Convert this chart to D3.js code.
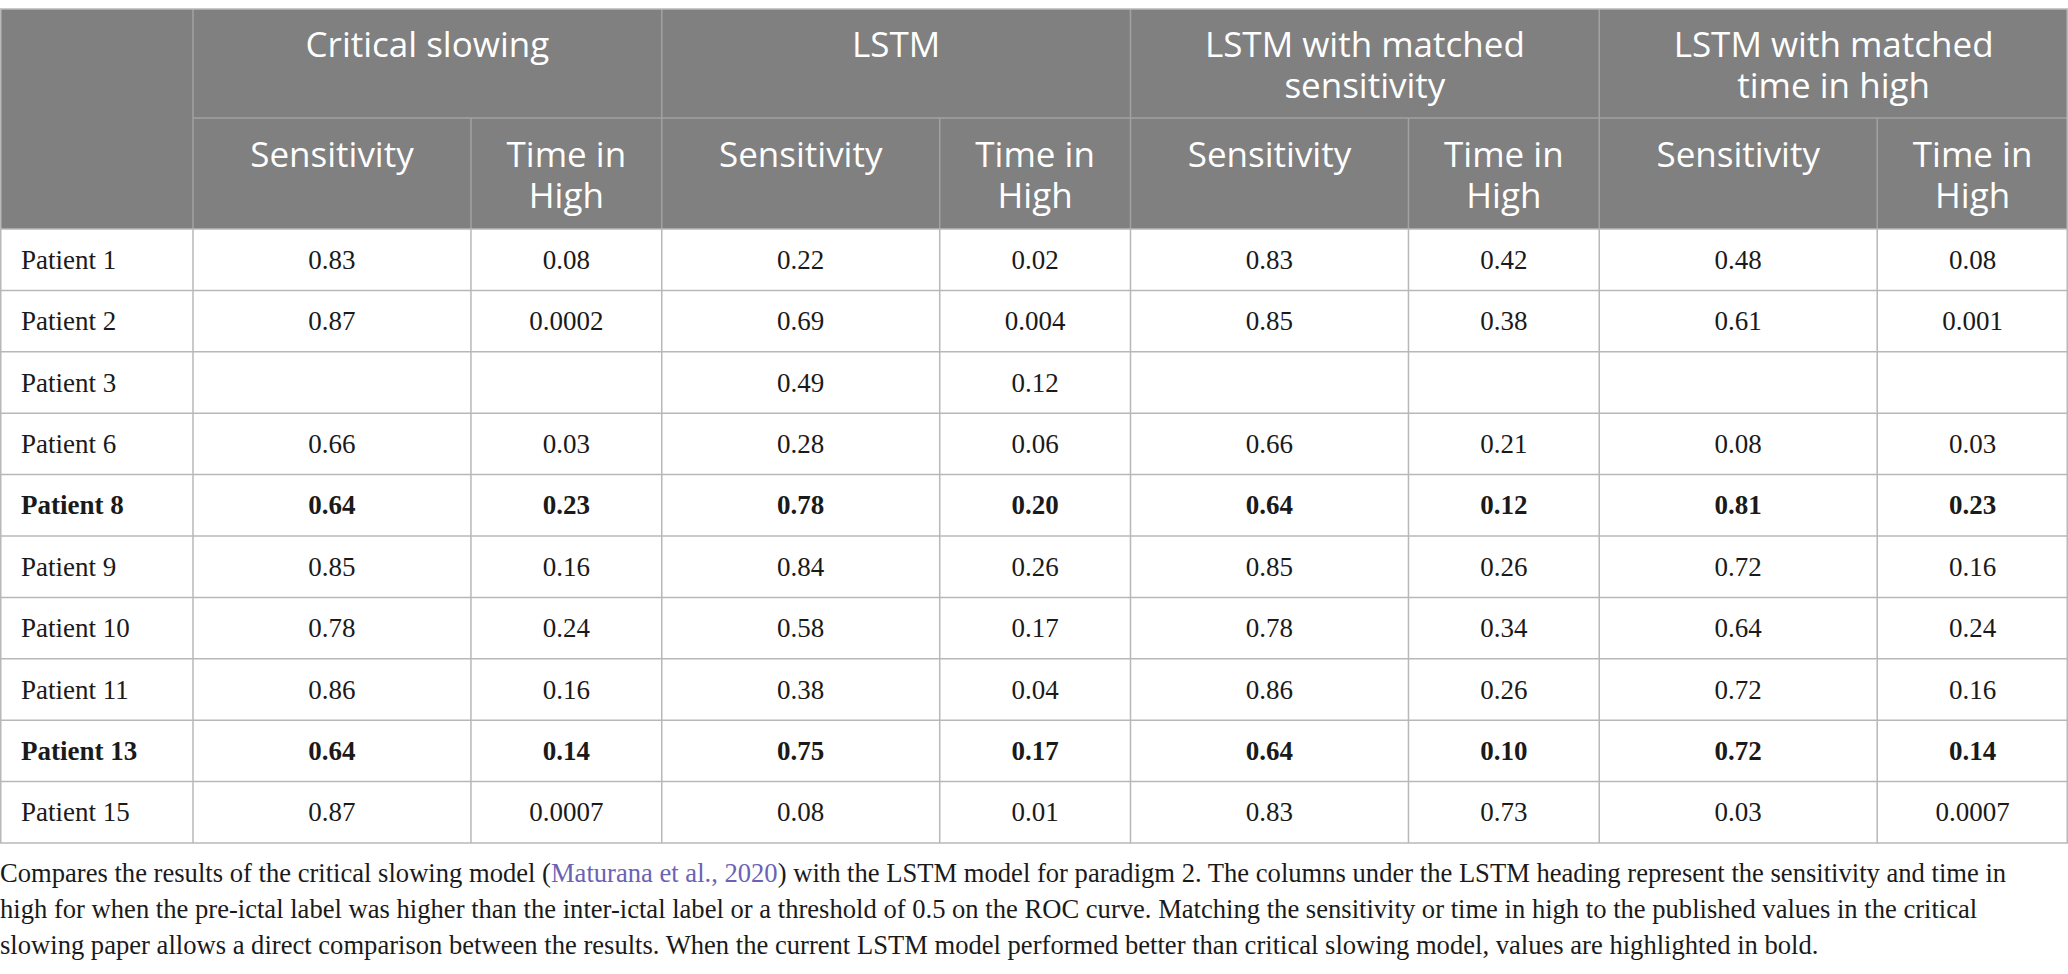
<!DOCTYPE html>
<html>
<head>
<meta charset="utf-8">
<script src="https://cdn.jsdelivr.net/npm/d3@7"></script>
<style>
  body { margin: 0; background: #fff; }
  .head { font-family: "Open Sans", sans-serif; font-weight: 400; fill: #fff; font-size: 35px; }
  .cell { font-family: "Liberation Serif", "Times New Roman", serif; font-size: 27px; fill: #1a1a1a; }
  .caption { font-family: "Liberation Serif", "Times New Roman", serif; font-size: 26.6px; fill: #1a1a1a; }
</style>
</head>
<body>
<div id="chart"></div>
<script>
// table content
var patients = ["Patient 1", "Patient 2", "Patient 3", "Patient 6", "Patient 8",
                "Patient 9", "Patient 10", "Patient 11", "Patient 13", "Patient 15"];
var boldRows = ["Patient 8", "Patient 13"];

var groups = ["Critical slowing", "LSTM", "LSTM with matched sensitivity", "LSTM with matched time in high"];
var groupLines = [["Critical slowing"], ["LSTM"], ["LSTM with matched", "sensitivity"], ["LSTM with matched", "time in high"]];
var metrics = ["Sensitivity", "Time in High"];
var metricLines = [["Sensitivity"], ["Time in", "High"]];

var critSens  = ["0.83", "0.87", "", "0.66", "0.64", "0.85", "0.78", "0.86", "0.64", "0.87"];
var critTime  = ["0.08", "0.0002", "", "0.03", "0.23", "0.16", "0.24", "0.16", "0.14", "0.0007"];
var lstmSens  = ["0.22", "0.69", "0.49", "0.28", "0.78", "0.84", "0.58", "0.38", "0.75", "0.08"];
var lstmTime  = ["0.02", "0.004", "0.12", "0.06", "0.20", "0.26", "0.17", "0.04", "0.17", "0.01"];
var mSensSens = ["0.83", "0.85", "", "0.66", "0.64", "0.85", "0.78", "0.86", "0.64", "0.83"];
var mSensTime = ["0.42", "0.38", "", "0.21", "0.12", "0.26", "0.34", "0.26", "0.10", "0.73"];
var mTimeSens = ["0.48", "0.61", "", "0.08", "0.81", "0.72", "0.64", "0.72", "0.72", "0.03"];
var mTimeTime = ["0.08", "0.001", "", "0.03", "0.23", "0.16", "0.24", "0.16", "0.14", "0.0007"];

var columns = [critSens, critTime, lstmSens, lstmTime, mSensSens, mSensTime, mTimeSens, mTimeTime];

var captionLines = [
  [["Compares the results of the critical slowing model (", false], ["Maturana et al., 2020", true],
   [") with the LSTM model for paradigm 2. The columns under the LSTM heading represent the sensitivity and time in", false]],
  [["high for when the pre-ictal label was higher than the inter-ictal label or a threshold of 0.5 on the ROC curve. Matching the sensitivity or time in high to the published values in the critical", false]],
  [["slowing paper allows a direct comparison between the results. When the current LSTM model performed better than critical slowing model, values are highlighted in bold.", false]]
];

var W = 2068, H = 974;
var tableTop = 9, head1 = 118, head2 = 229, tableBottom = 843;
var firstCol = 193, split = 0.593;
var lineCol = "#b8b8b8", headLine = "#a2a2a2", headFill = "#808080";

var svg = d3.select("#chart").append("svg")
    .attr("width", W)
    .attr("height", H);

var xg = d3.scaleBand().domain(groups).range([firstCol, W]);
var xs = d3.scaleOrdinal().domain(metrics).range([0, split]);
var y = d3.scaleBand().domain(patients).range([head2, tableBottom]);

function colLeft(i) {
  var g = groups[Math.floor(i / 2)], m = metrics[i % 2];
  return xg(g) + xs(m) * xg.bandwidth();
}
function colRight(i) {
  return i % 2 == 0 ? colLeft(i + 1) : xg(groups[Math.floor(i / 2)]) + xg.bandwidth();
}

// header background
svg.append("rect")
    .attr("x", 0).attr("y", tableTop)
    .attr("width", W).attr("height", head2 - tableTop)
    .attr("fill", headFill);

// header lines
var hl = svg.append("g").attr("stroke", headLine).attr("stroke-width", 1.5);
hl.append("line").attr("x1", firstCol).attr("x2", W).attr("y1", head1).attr("y2", head1);
groups.forEach(function (g) {
  hl.append("line").attr("x1", xg(g)).attr("x2", xg(g)).attr("y1", tableTop).attr("y2", head2);
  hl.append("line")
      .attr("x1", xg(g) + split * xg.bandwidth()).attr("x2", xg(g) + split * xg.bandwidth())
      .attr("y1", head1).attr("y2", head2);
});

// group titles
groups.forEach(function (g, i) {
  var t = svg.append("text").attr("class", "head")
      .attr("text-anchor", "middle");
  groupLines[i].forEach(function (s, k) {
    t.append("tspan").attr("x", xg(g) + xg.bandwidth() / 2).attr("y", tableTop + 48 + k * 41).text(s);
  });
});

// metric titles
columns.forEach(function (c, i) {
  var t = svg.append("text").attr("class", "head").attr("text-anchor", "middle");
  metricLines[i % 2].forEach(function (s, k) {
    t.append("tspan").attr("x", (colLeft(i) + colRight(i)) / 2).attr("y", head1 + 49 + k * 40.5).text(s);
  });
});

// body grid
var grid = svg.append("g").attr("stroke", lineCol).attr("stroke-width", 1.5).attr("fill", "none");
patients.forEach(function (p) {
  grid.append("line").attr("x1", 0).attr("x2", W).attr("y1", y(p) + y.bandwidth()).attr("y2", y(p) + y.bandwidth());
});
grid.append("line").attr("x1", 0).attr("x2", W).attr("y1", tableTop).attr("y2", tableTop);
grid.append("line").attr("x1", 0).attr("x2", W).attr("y1", head2).attr("y2", head2);
grid.append("line").attr("x1", 0.75).attr("x2", 0.75).attr("y1", tableTop).attr("y2", tableBottom);
grid.append("line").attr("x1", W - 0.75).attr("x2", W - 0.75).attr("y1", tableTop).attr("y2", tableBottom);
var edges = [firstCol];
columns.forEach(function (c, i) { if (i > 0) edges.push(colLeft(i)); });
edges.forEach(function (x) {
  grid.append("line").attr("x1", x).attr("x2", x).attr("y1", head2).attr("y2", tableBottom);
});

// row labels
svg.append("g").selectAll("text")
    .data(patients)
    .join("text")
    .attr("class", "cell")
    .attr("x", 21)
    .attr("y", function (d) { return y(d) + y.bandwidth() / 2 + 9; })
    .attr("font-weight", function (d) { return boldRows.indexOf(d) >= 0 ? "bold" : "normal"; })
    .text(function (d) { return d; });

// values
columns.forEach(function (col, i) {
  svg.append("g").selectAll("text")
      .data(col)
      .join("text")
      .attr("class", "cell")
      .attr("text-anchor", "middle")
      .attr("x", (colLeft(i) + colRight(i)) / 2)
      .attr("y", function (d, r) { return y(patients[r]) + y.bandwidth() / 2 + 9; })
      .attr("font-weight", function (d, r) { return boldRows.indexOf(patients[r]) >= 0 ? "bold" : "normal"; })
      .text(function (d) { return d; });
});

// caption
captionLines.forEach(function (parts, k) {
  var t = svg.append("text").attr("class", "caption")
      .attr("x", 0).attr("y", 882 + k * 36);
  parts.forEach(function (p) {
    t.append("tspan").attr("fill", p[1] ? "#6b62b5" : null).text(p[0]);
  });
});
</script>
</body>
</html>
